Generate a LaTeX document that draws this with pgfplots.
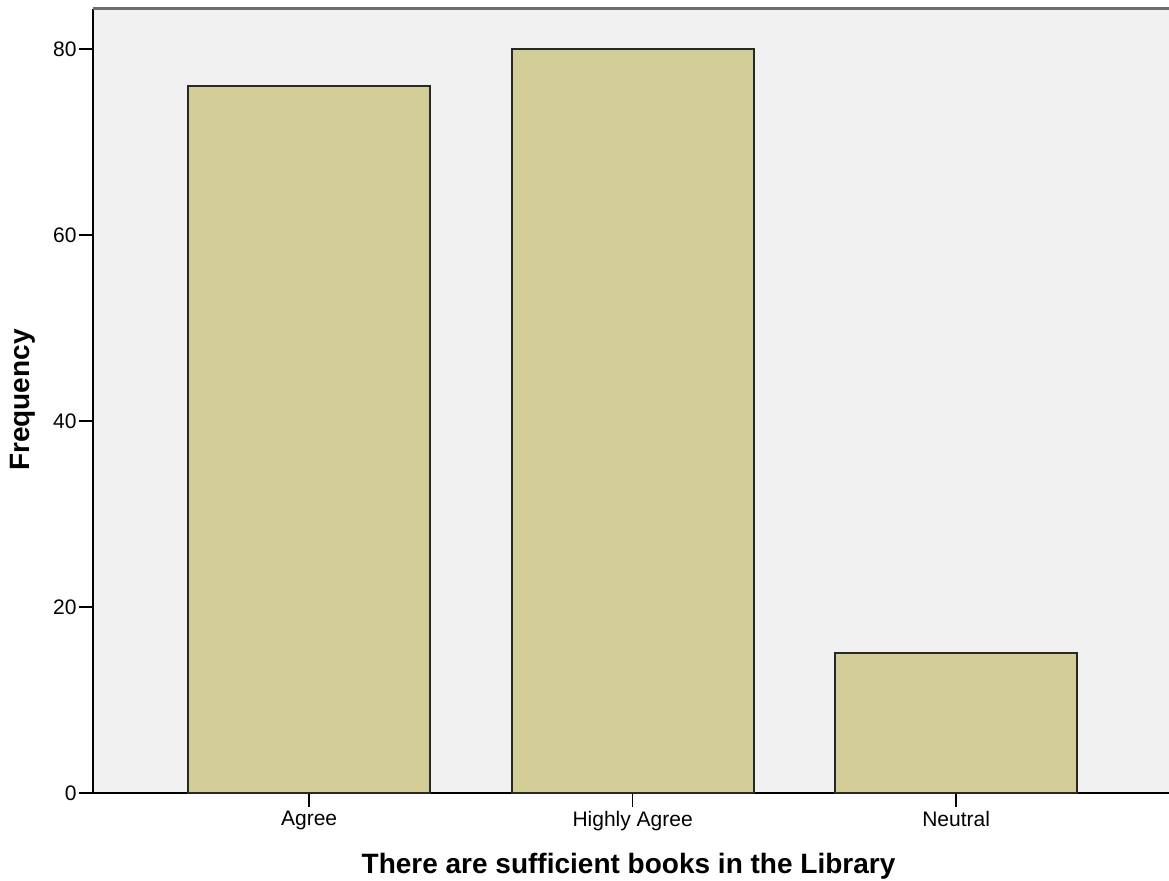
\documentclass[border=0pt]{standalone}
\usepackage{fontspec}
\setmainfont{Liberation Sans}
\usepackage{pgfplots}
\pgfplotsset{compat=1.18}
\definecolor{bgc}{RGB}{240,240,240}
\definecolor{barc}{RGB}{211,206,151}
\definecolor{edgec}{RGB}{40,40,40}
\definecolor{topc}{RGB}{110,110,110}
\begin{document}
\begin{tikzpicture}
\useasboundingbox (0,0) rectangle (584.5pt,440.5pt);
\begin{axis}[
  at={(46.5pt,44pt)}, anchor=south west,
  scale only axis, width=538pt, height=392pt,
  xmin=-0.668, xmax=2.658,
  ymin=0, ymax=84.3,
  axis x line*=bottom, axis y line*=left,
  axis line style={black, line width=1.1pt, -},
  axis background/.style={fill=bgc},
  xtick={0,1,2},
  xticklabels={Agree,Highly Agree,Neutral},
  ytick={0,20,40,60,80},
  tick align=outside,
  major tick length=7pt,
  tick style={black, line width=0.8pt},
  /pgf/number format/assume math mode=true,
  ticklabel style={font=\fontsize{10.5}{12}\selectfont},
  yticklabel style={inner xsep=1pt},
  xticklabel style={inner ysep=2pt},
  xlabel={There are sufficient books in the Library},
  ylabel={Frequency},
  label style={font=\fontsize{14}{16}\selectfont\bfseries},
  x label style={at={(axis description cs:0.4977,-0.1033)}, anchor=base},
  y label style={at={(axis description cs:-0.0586,0.501)}, anchor=base},
  clip=false,
]
\addplot[ybar, bar width=121pt, fill=barc, draw=edgec, line width=1pt] coordinates {(0,76) (1,80) (2,15)};
\draw[topc, line width=1.5pt] (rel axis cs:0,1) -- (rel axis cs:1,1);
\end{axis}
\end{tikzpicture}
\end{document}
